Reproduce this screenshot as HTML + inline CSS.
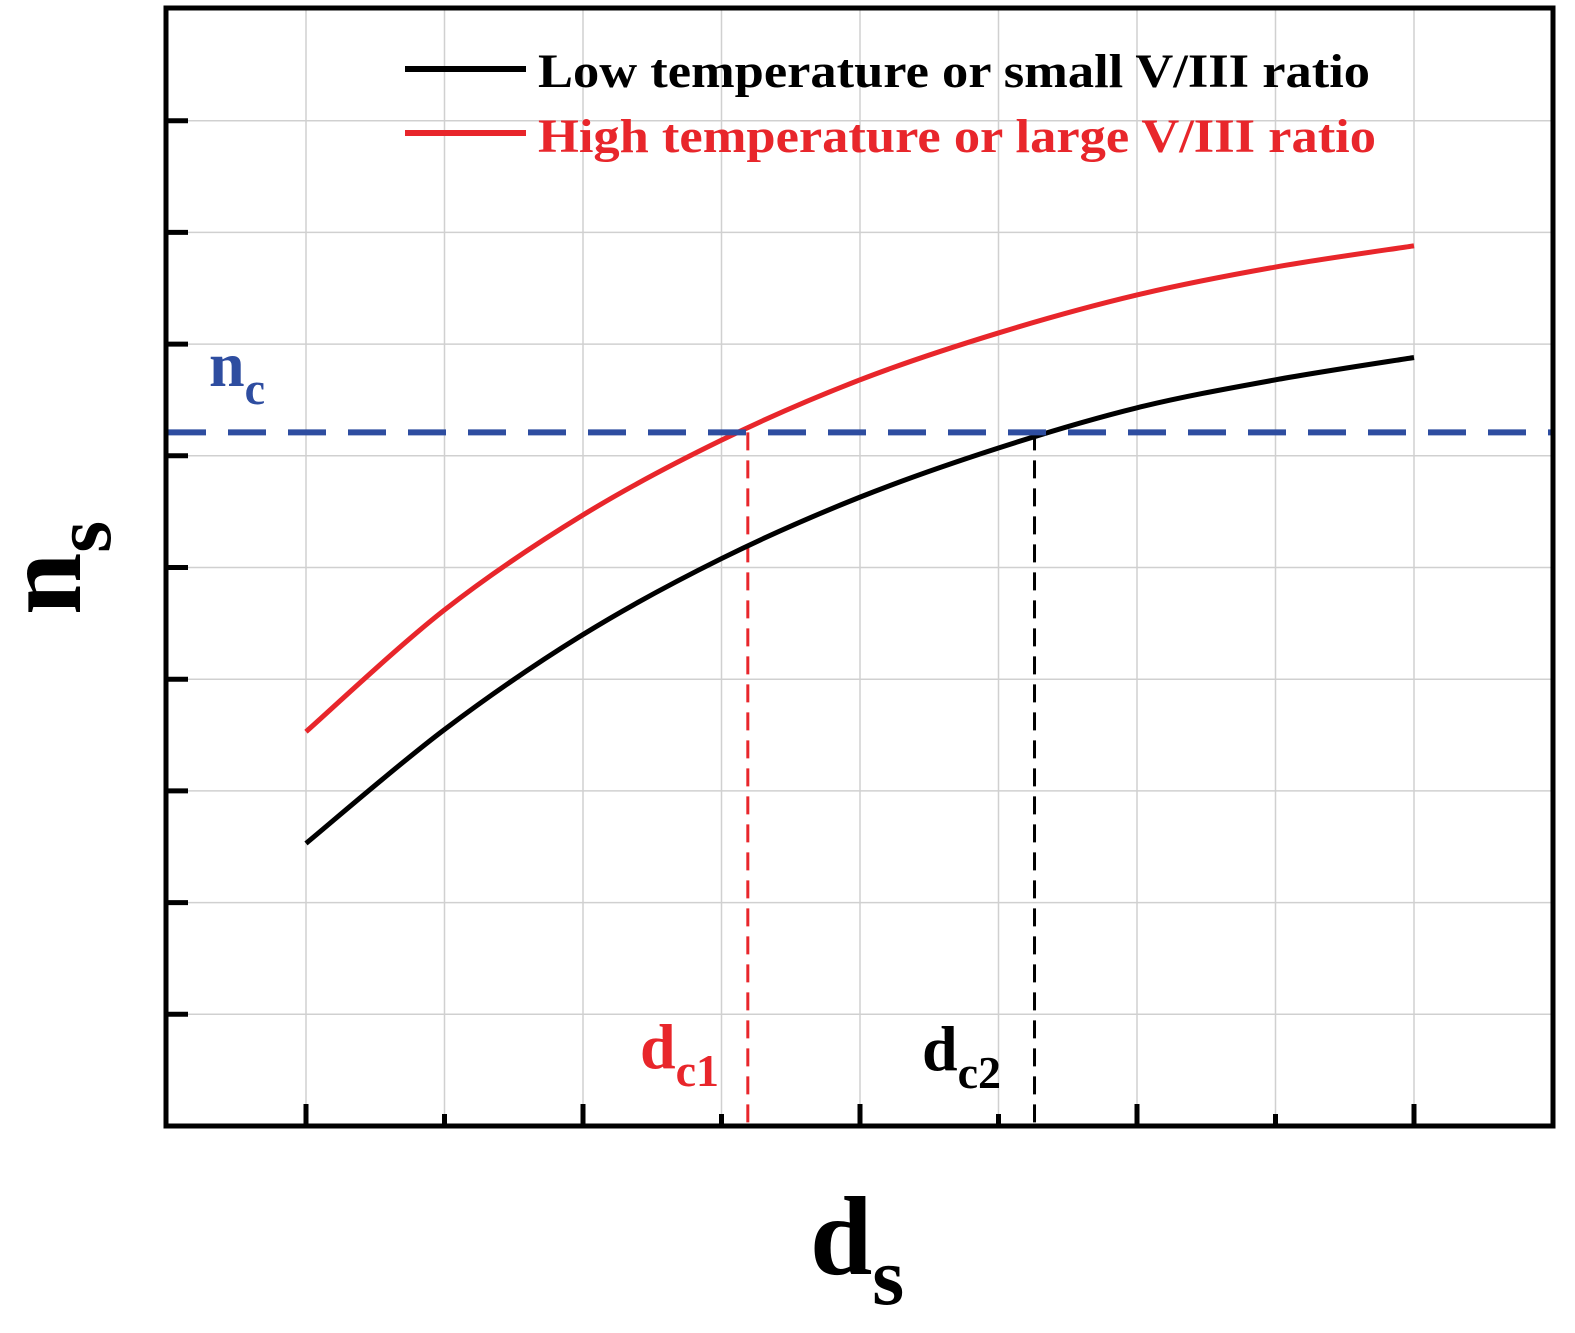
<!DOCTYPE html>
<html><head><meta charset="utf-8"><style>
html,body{margin:0;padding:0;background:#fff;}
svg{display:block;}
text{font-family:"Liberation Serif",serif;font-weight:bold;}
</style></head><body>
<svg id="chart" width="1575" height="1333" viewBox="0 0 1575 1333">
<g id="grid"></g>
<g id="curves"></g>
<g id="axes"></g>
<g>
  <line x1="405" y1="69" x2="526" y2="69" stroke="#000" stroke-width="6"/>
  <text x="538" y="87" font-size="48" textLength="832" lengthAdjust="spacingAndGlyphs" fill="#000">Low temperature or small V/III ratio</text>
  <line x1="405" y1="133" x2="526" y2="133" stroke="#e8262b" stroke-width="6"/>
  <text x="538" y="152" font-size="48" textLength="838" lengthAdjust="spacingAndGlyphs" fill="#e8262b">High temperature or large V/III ratio</text>
</g>
<text x="209" y="386" font-size="64" fill="#2e4da0">n<tspan font-size="46" dy="18">c</tspan></text>
<text x="640" y="1068" font-size="64" fill="#e8262b">d<tspan font-size="46" dy="18">c1</tspan></text>
<text x="922" y="1070" font-size="64" fill="#000">d<tspan font-size="46" dy="18">c2</tspan></text>
<text x="810" y="1274" font-size="112" fill="#000">d<tspan font-size="82" dy="30">s</tspan></text>
<text transform="translate(80,615) rotate(-90)" font-size="112" fill="#000">n<tspan font-size="82" dy="30">s</tspan></text>
</svg>
<script>
const xs=[0,1,2,3,4,5,6,7,8];
const lowSeries=[2.53,3.55,4.40,5.08,5.63,6.07,6.43,6.68,6.88];
const highSeries=[3.53,4.62,5.47,6.14,6.68,7.10,7.44,7.69,7.88];
const ncValue=6.21;
const dc1Value=3.19;
const dc2Value=5.26;
const xGrid=[0,1,2,3,4,5,6,7,8];
const yGrid=[1,2,3,4,5,6,7,8,9];
const X=v=>306+v*138.5, Y=v=>1126-v*111.7;
const NS='http://www.w3.org/2000/svg';
function mk(p,tag,a){const e=document.createElementNS(NS,tag);for(const k in a)e.setAttribute(k,a[k]);p.appendChild(e);return e;}
const grid=document.getElementById('grid'),cur=document.getElementById('curves'),ax=document.getElementById('axes');
xGrid.forEach(v=>{const e=mk(grid,'line',{x1:X(v),x2:X(v),y1:8,y2:1126,stroke:'#d0d0d0','stroke-width':1.5});

});
yGrid.forEach(v=>{const e=mk(grid,'line',{x1:166,x2:1553,y1:Y(v),y2:Y(v),stroke:'#d0d0d0','stroke-width':1.5});

});
function path(vals){
  const p=vals.map((v,i)=>[X(xs[i]),Y(v)]);
  let d='M'+p[0][0]+' '+p[0][1];
  for(let i=0;i<p.length-1;i++){
    const p0=p[i-1]||p[i],p1=p[i],p2=p[i+1],p3=p[i+2]||p2;
    const c1=[p1[0]+(p2[0]-p0[0])/6,p1[1]+(p2[1]-p0[1])/6];
    const c2=[p2[0]-(p3[0]-p1[0])/6,p2[1]-(p3[1]-p1[1])/6];
    d+=' C'+c1[0]+' '+c1[1]+' '+c2[0]+' '+c2[1]+' '+p2[0]+' '+p2[1];
  }
  return d;
}
let d1=mk(cur,'line',{x1:X(dc1Value),x2:X(dc1Value),y1:Y(ncValue),y2:1126,stroke:'#e8262b','stroke-width':3,'stroke-dasharray':'18 10'});


let d2=mk(cur,'line',{x1:X(dc2Value),x2:X(dc2Value),y1:Y(ncValue),y2:1126,stroke:'#000','stroke-width':3,'stroke-dasharray':'18 10'});


let lo=mk(cur,'path',{d:path(lowSeries),fill:'none',stroke:'#000','stroke-width':5,'stroke-linejoin':'round'});


let hi=mk(cur,'path',{d:path(highSeries),fill:'none',stroke:'#e8262b','stroke-width':5,'stroke-linejoin':'round'});


let nc=mk(cur,'line',{x1:168,x2:1553,y1:Y(ncValue),y2:Y(ncValue),stroke:'#2e4da0','stroke-width':6,'stroke-dasharray':'38 22'});


let fr=mk(ax,'rect',{x:166,y:8,width:1387,height:1118,fill:'none',stroke:'#000','stroke-width':5});


yGrid.forEach(v=>{const e=mk(ax,'line',{x1:166,x2:188,y1:Y(v),y2:Y(v),stroke:'#000','stroke-width':5});

});
xGrid.forEach((v,i)=>{const e=mk(ax,'line',{x1:X(v),x2:X(v),y1:1126,y2:i%2?1114:1104,stroke:'#000','stroke-width':5});

});
</script>
</body></html>
